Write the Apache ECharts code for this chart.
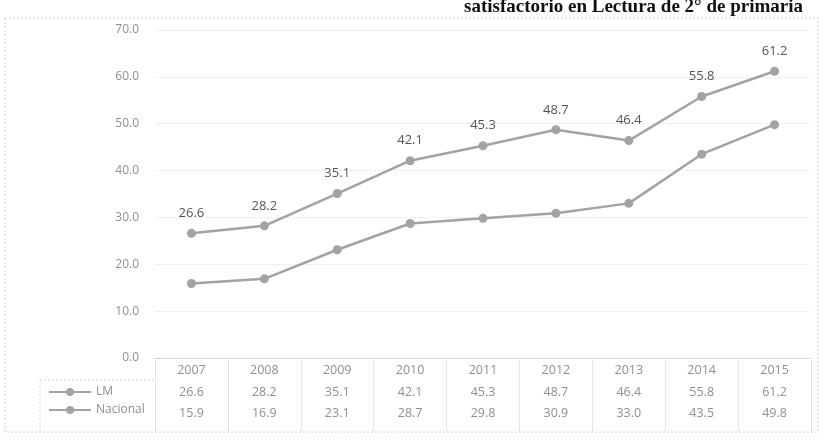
<!DOCTYPE html>
<html>
<head>
<meta charset="utf-8">
<script src="https://cdn.jsdelivr.net/npm/echarts@6/dist/echarts.min.js"></script>
<style>
  html, body { margin: 0; padding: 0; background: #fff; }
  #chart { width: 827px; height: 440px; }
</style>
</head>
<body>
<div id="chart"></div>
<script>
const years = ['2007', '2008', '2009', '2010', '2011', '2012', '2013', '2014', '2015']
const lm = [26.6, 28.2, 35.1, 42.1, 45.3, 48.7, 46.4, 55.8, 61.2]
const nacional = [15.9, 16.9, 23.1, 28.7, 29.8, 30.9, 33.0, 43.5, 49.8]
const seriesNames = ['LM', 'Nacional']

const chart = echarts.init(document.getElementById('chart'))

const gray = '#a3a3a3'
const textGray = '#8f8f8f'
const font = "'Open Sans', 'Liberation Sans', sans-serif"

// filas de la tabla de datos como ejes de categoria extra
const tableAxis = (values, offset) => ({
  type: 'category',
  data: values.map(v => v.toFixed(1)),
  position: 'bottom',
  offset: offset,
  axisLine: { show: false },
  axisTick: { show: false },
  axisLabel: { color: textGray, fontFamily: font, fontSize: 12.5, margin: 6 }
})

const option = {
  animation: false,
  title: {
    text: 'satisfactorio en Lectura de 2° de primaria',
    right: 19,
    top: -7,
    textStyle: { fontFamily: "'Liberation Serif', serif", fontWeight: 'bold', fontSize: 19, color: '#111' }
  },
  grid: { left: 155, right: 16, top: 30, bottom: 82 },
  legend: {
    orient: 'vertical',
    left: 43,
    top: 381,
    itemGap: 6,
    itemWidth: 42,
    itemHeight: 10,
    textStyle: { color: textGray, fontFamily: font, fontSize: 12 },
    data: seriesNames
  },
  xAxis: [
    {
      type: 'category',
      data: years,
      position: 'bottom',
      axisLine: { lineStyle: { color: '#cfcfcf', type: 'dotted' } },
      axisTick: { show: true, length: 74, lineStyle: { color: '#cfcfcf', type: 'dotted' } },
      axisLabel: { color: textGray, fontFamily: font, fontSize: 12.5, margin: 6 }
    },
    tableAxis(lm, 22),
    tableAxis(nacional, 43)
  ],
  yAxis: {
    type: 'value',
    min: 0,
    max: 70,
    interval: 10,
    axisLine: { show: false },
    axisTick: { show: false },
    axisLabel: { color: textGray, fontFamily: font, fontSize: 12, margin: 16, formatter: v => v.toFixed(1) },
    splitLine: { lineStyle: { color: '#e2e2e2', type: 'dotted' } }
  },
  series: [
    {
      name: seriesNames[0],
      type: 'line',
      data: lm,
      symbol: 'circle',
      symbolSize: 9,
      itemStyle: { color: gray },
      lineStyle: { color: gray, width: 2.5 },
      label: { show: true, position: 'top', distance: 9, color: '#555', fontFamily: font, fontSize: 13, formatter: p => p.value.toFixed(1) }
    },
    {
      name: seriesNames[1],
      type: 'line',
      data: nacional,
      symbol: 'circle',
      symbolSize: 9,
      itemStyle: { color: gray },
      lineStyle: { color: gray, width: 2.5 }
    }
  ],
  graphic: [
    {
      type: 'rect',
      shape: { x: 5, y: 18, width: 813, height: 414 },
      style: { fill: null, stroke: '#d0d0d0', lineDash: [2, 2] },
      silent: true
    },
    {
      type: 'polyline',
      shape: { points: [[40, 432], [40, 380], [155, 380]] },
      style: { fill: null, stroke: '#d6d6d6', lineDash: [2, 2] },
      silent: true
    }
  ]
}

chart.setOption(option)
</script>
</body>
</html>
